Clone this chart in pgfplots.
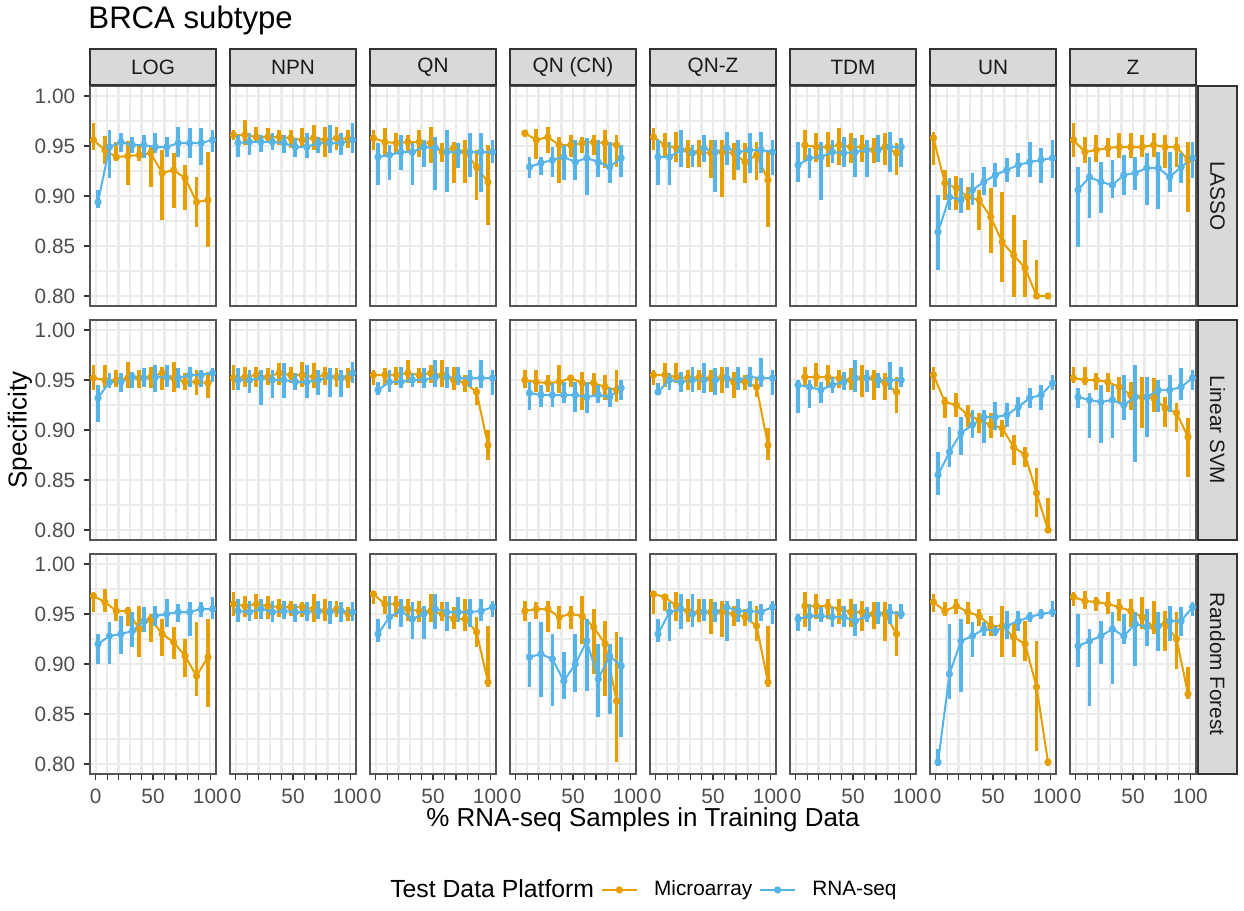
\documentclass[border=0pt]{standalone}
\usepackage{pgfplots}
\pgfplotsset{compat=1.18}
\usepackage{pgfplotstable}
\usepackage{fontspec}
\setmainfont{Liberation Sans}

\definecolor{mO}{HTML}{E69F00}
\definecolor{rB}{HTML}{56B4E9}
\definecolor{gray92}{HTML}{EBEBEB}
\definecolor{gray85}{HTML}{D9D9D9}
\definecolor{gray30}{HTML}{4D4D4D}
\definecolor{gray20}{HTML}{333333}
\definecolor{gray10}{HTML}{1A1A1A}
\definecolor{border}{HTML}{555555}

% columns: x, Microarray mean/low/high, RNA-seq mean/low/high
% ---------- LASSO ----------
\pgfplotstableread{
x m mlo mhi r rlo rhi
0 0.956 0.946 0.973 0.894 0.888 0.906
10 0.946 0.932 0.960 0.949 0.918 0.966
20 0.939 0.935 0.954 0.954 0.944 0.963
30 0.940 0.911 0.955 0.951 0.943 0.959
40 0.941 0.935 0.950 0.951 0.938 0.961
50 0.943 0.909 0.950 0.949 0.943 0.963
60 0.923 0.876 0.946 0.949 0.939 0.959
70 0.926 0.888 0.943 0.953 0.939 0.969
80 0.918 0.886 0.931 0.953 0.938 0.968
90 0.894 0.869 0.919 0.953 0.931 0.968
100 0.896 0.849 0.944 0.956 0.944 0.966
}\tLOGa
\pgfplotstableread{
x m mlo mhi r rlo rhi
0 0.961 0.956 0.966 0.953 0.939 0.961
10 0.961 0.951 0.976 0.954 0.941 0.963
20 0.959 0.953 0.969 0.954 0.944 0.961
30 0.959 0.953 0.968 0.954 0.946 0.963
40 0.959 0.951 0.966 0.953 0.943 0.961
50 0.958 0.948 0.966 0.949 0.939 0.958
60 0.956 0.948 0.968 0.949 0.938 0.963
70 0.958 0.946 0.971 0.953 0.943 0.959
80 0.956 0.939 0.969 0.953 0.943 0.971
90 0.958 0.946 0.969 0.953 0.941 0.963
100 0.957 0.948 0.966 0.956 0.943 0.973
}\tNPNa
\pgfplotstableread{
x m mlo mhi r rlo rhi
0 0.958 0.946 0.966 0.939 0.911 0.953
10 0.954 0.939 0.968 0.941 0.916 0.951
20 0.953 0.943 0.963 0.944 0.926 0.961
30 0.954 0.944 0.961 0.944 0.911 0.953
40 0.954 0.939 0.966 0.949 0.929 0.956
50 0.953 0.933 0.969 0.948 0.906 0.959
60 0.944 0.934 0.953 0.944 0.904 0.966
70 0.948 0.913 0.954 0.944 0.928 0.953
80 0.944 0.913 0.956 0.944 0.919 0.963
90 0.929 0.896 0.946 0.944 0.904 0.963
100 0.914 0.871 0.951 0.944 0.933 0.956
}\tQNa
\pgfplotstableread{
x m mlo mhi r rlo rhi
10 0.963 0.959 0.966 0.929 0.918 0.939
20 0.956 0.937 0.967 0.933 0.921 0.939
30 0.959 0.943 0.969 0.936 0.919 0.949
40 0.951 0.913 0.959 0.939 0.916 0.951
50 0.951 0.939 0.961 0.934 0.916 0.956
60 0.953 0.943 0.959 0.938 0.901 0.958
70 0.954 0.941 0.961 0.934 0.919 0.956
80 0.953 0.928 0.966 0.929 0.913 0.954
90 0.951 0.929 0.961 0.938 0.919 0.951
}\tQNCNa
\pgfplotstableread{
x m mlo mhi r rlo rhi
0 0.959 0.946 0.968 0.939 0.911 0.956
10 0.951 0.939 0.963 0.939 0.911 0.954
20 0.948 0.934 0.964 0.946 0.929 0.966
30 0.946 0.928 0.956 0.943 0.929 0.951
40 0.944 0.929 0.956 0.948 0.934 0.961
50 0.943 0.918 0.956 0.944 0.904 0.956
60 0.944 0.899 0.956 0.948 0.931 0.964
70 0.943 0.916 0.953 0.944 0.926 0.956
80 0.934 0.913 0.953 0.946 0.923 0.963
90 0.941 0.916 0.954 0.946 0.923 0.964
100 0.916 0.869 0.946 0.944 0.921 0.956
}\tQNZa
\pgfplotstableread{
x m mlo mhi r rlo rhi
0 nan nan nan 0.931 0.914 0.954
10 0.951 0.934 0.966 0.938 0.918 0.948
20 0.949 0.934 0.963 0.939 0.896 0.954
30 0.949 0.929 0.964 0.944 0.933 0.956
40 0.951 0.931 0.968 0.943 0.929 0.959
50 0.949 0.933 0.963 0.944 0.919 0.958
60 0.949 0.934 0.961 0.946 0.919 0.956
70 0.946 0.933 0.958 0.946 0.934 0.961
80 0.949 0.931 0.963 0.949 0.924 0.964
90 0.943 0.921 0.953 0.949 0.929 0.958
}\tTDMa
\pgfplotstableread{
x m mlo mhi r rlo rhi
0 0.958 0.931 0.964 0.864 0.826 0.901
10 0.913 0.896 0.926 0.899 0.886 0.918
20 0.908 0.886 0.920 0.896 0.883 0.918
30 0.899 0.886 0.909 0.906 0.891 0.923
40 0.896 0.866 0.906 0.914 0.901 0.929
50 0.879 0.843 0.908 0.921 0.909 0.933
60 0.854 0.814 0.904 0.926 0.914 0.938
70 0.841 0.799 0.881 0.931 0.919 0.943
80 0.828 0.799 0.856 0.934 0.919 0.954
90 0.800 0.799 0.836 0.936 0.913 0.948
100 0.800 0.798 0.802 0.938 0.918 0.956
}\tUNa
\pgfplotstableread{
x m mlo mhi r rlo rhi
0 0.956 0.939 0.973 0.906 0.849 0.929
10 0.944 0.933 0.959 0.919 0.878 0.939
20 0.946 0.934 0.961 0.914 0.883 0.934
30 0.948 0.939 0.958 0.911 0.898 0.936
40 0.949 0.938 0.963 0.921 0.901 0.941
50 0.949 0.938 0.963 0.923 0.906 0.939
60 0.949 0.939 0.961 0.928 0.891 0.943
70 0.951 0.939 0.963 0.928 0.887 0.944
80 0.949 0.928 0.961 0.919 0.904 0.944
90 0.949 0.929 0.959 0.929 0.913 0.943
100 0.936 0.884 0.954 0.938 0.918 0.954
}\tZa
% ---------- Linear SVM ----------
\pgfplotstableread{
x m mlo mhi r rlo rhi
0 0.952 0.940 0.965 0.932 0.908 0.945
10 0.950 0.942 0.965 0.948 0.942 0.957
20 0.950 0.943 0.960 0.948 0.938 0.957
30 0.952 0.942 0.968 0.953 0.942 0.958
40 0.952 0.942 0.960 0.952 0.943 0.962
50 0.953 0.942 0.963 0.953 0.938 0.965
60 0.957 0.940 0.963 0.953 0.943 0.965
70 0.952 0.938 0.968 0.952 0.942 0.962
80 0.948 0.940 0.957 0.955 0.943 0.963
90 0.948 0.935 0.960 0.955 0.943 0.960
100 0.947 0.932 0.958 0.957 0.948 0.962
}\tLOGb
\pgfplotstableread{
x m mlo mhi r rlo rhi
0 0.952 0.940 0.965 0.950 0.940 0.962
10 0.953 0.943 0.963 0.950 0.937 0.960
20 0.955 0.943 0.963 0.952 0.925 0.960
30 0.953 0.945 0.962 0.950 0.932 0.960
40 0.957 0.945 0.967 0.950 0.932 0.967
50 0.955 0.947 0.963 0.948 0.940 0.957
60 0.955 0.943 0.968 0.948 0.932 0.965
70 0.953 0.942 0.967 0.950 0.935 0.960
80 0.955 0.945 0.963 0.953 0.933 0.962
90 0.953 0.943 0.962 0.952 0.933 0.960
100 0.952 0.942 0.962 0.957 0.947 0.968
}\tNPNb
\pgfplotstableread{
x m mlo mhi r rlo rhi
0 0.955 0.945 0.960 0.940 0.935 0.948
10 0.955 0.945 0.962 0.948 0.938 0.960
20 0.955 0.945 0.963 0.948 0.942 0.963
30 0.957 0.947 0.970 0.950 0.943 0.957
40 0.955 0.947 0.962 0.950 0.942 0.962
50 0.957 0.947 0.965 0.953 0.943 0.970
60 0.955 0.943 0.970 0.953 0.942 0.963
70 0.950 0.940 0.963 0.952 0.945 0.963
80 0.947 0.938 0.955 0.952 0.943 0.960
90 0.938 0.925 0.943 0.952 0.942 0.970
100 0.885 0.870 0.900 0.952 0.935 0.960
}\tQNb
\pgfplotstableread{
x m mlo mhi r rlo rhi
10 0.950 0.942 0.960 0.937 0.920 0.948
20 0.948 0.938 0.960 0.935 0.923 0.945
30 0.947 0.938 0.955 0.935 0.923 0.947
40 0.948 0.937 0.965 0.935 0.927 0.948
50 0.952 0.943 0.955 0.935 0.918 0.948
60 0.947 0.920 0.958 0.933 0.917 0.948
70 0.947 0.933 0.957 0.935 0.927 0.945
80 0.943 0.930 0.955 0.933 0.923 0.942
90 0.940 0.928 0.960 0.942 0.930 0.950
}\tQNCNb
\pgfplotstableread{
x m mlo mhi r rlo rhi
0 0.955 0.945 0.960 0.938 0.935 0.947
10 0.955 0.943 0.967 0.950 0.940 0.957
20 0.953 0.947 0.967 0.948 0.938 0.958
30 0.952 0.940 0.960 0.950 0.938 0.963
40 0.953 0.940 0.960 0.950 0.937 0.967
50 0.952 0.938 0.960 0.950 0.935 0.962
60 0.953 0.937 0.963 0.952 0.942 0.963
70 0.948 0.932 0.958 0.950 0.940 0.963
80 0.948 0.940 0.955 0.953 0.943 0.963
90 0.943 0.933 0.952 0.952 0.943 0.972
100 0.885 0.870 0.902 0.952 0.935 0.960
}\tQNZb
\pgfplotstableread{
x m mlo mhi r rlo rhi
0 nan nan nan 0.945 0.917 0.950
10 0.953 0.943 0.963 0.943 0.922 0.950
20 0.953 0.943 0.967 0.940 0.927 0.948
30 0.953 0.943 0.965 0.945 0.937 0.953
40 0.952 0.942 0.960 0.948 0.940 0.958
50 0.950 0.940 0.962 0.952 0.938 0.970
60 0.952 0.933 0.965 0.952 0.938 0.960
70 0.952 0.930 0.960 0.950 0.942 0.957
80 0.947 0.930 0.957 0.950 0.940 0.968
90 0.938 0.917 0.953 0.950 0.943 0.963
}\tTDMb
\pgfplotstableread{
x m mlo mhi r rlo rhi
0 0.955 0.940 0.963 0.855 0.835 0.878
10 0.928 0.912 0.933 0.878 0.863 0.903
20 0.925 0.913 0.937 0.897 0.875 0.913
30 0.915 0.903 0.925 0.905 0.892 0.920
40 0.910 0.897 0.917 0.913 0.887 0.920
50 0.905 0.892 0.917 0.913 0.900 0.928
60 0.902 0.893 0.910 0.915 0.903 0.927
70 0.883 0.865 0.895 0.923 0.913 0.933
80 0.875 0.863 0.883 0.932 0.922 0.942
90 0.837 0.813 0.862 0.935 0.920 0.945
100 0.800 0.797 0.832 0.947 0.940 0.955
}\tUNb
\pgfplotstableread{
x m mlo mhi r rlo rhi
0 0.952 0.947 0.963 0.933 0.922 0.942
10 0.950 0.945 0.963 0.930 0.892 0.937
20 0.950 0.940 0.957 0.928 0.887 0.945
30 0.948 0.938 0.957 0.930 0.892 0.945
40 0.943 0.927 0.953 0.925 0.910 0.955
50 0.935 0.920 0.948 0.933 0.868 0.965
60 0.933 0.902 0.953 0.933 0.893 0.953
70 0.932 0.918 0.952 0.940 0.918 0.950
80 0.922 0.903 0.933 0.940 0.918 0.955
90 0.917 0.898 0.927 0.943 0.930 0.962
100 0.893 0.853 0.912 0.952 0.940 0.960
}\tZb
% ---------- Random Forest ----------
\pgfplotstableread{
x m mlo mhi r rlo rhi
0 0.968 0.952 0.972 0.920 0.900 0.930
10 0.962 0.952 0.975 0.928 0.900 0.942
20 0.953 0.943 0.965 0.930 0.910 0.948
30 0.953 0.938 0.957 0.933 0.917 0.952
40 0.935 0.907 0.958 0.943 0.932 0.957
50 0.945 0.922 0.950 0.948 0.938 0.958
60 0.930 0.908 0.945 0.950 0.937 0.965
70 0.922 0.905 0.937 0.952 0.942 0.960
80 0.908 0.887 0.925 0.952 0.928 0.962
90 0.888 0.868 0.942 0.955 0.947 0.962
100 0.907 0.857 0.945 0.955 0.945 0.967
}\tLOGc
\pgfplotstableread{
x m mlo mhi r rlo rhi
0 0.960 0.948 0.972 0.953 0.942 0.965
10 0.958 0.947 0.968 0.952 0.943 0.963
20 0.960 0.945 0.970 0.955 0.945 0.965
30 0.958 0.945 0.968 0.952 0.942 0.963
40 0.957 0.947 0.965 0.953 0.945 0.963
50 0.957 0.948 0.963 0.952 0.942 0.960
60 0.957 0.947 0.962 0.952 0.943 0.962
70 0.955 0.942 0.970 0.953 0.945 0.963
80 0.953 0.943 0.965 0.952 0.940 0.963
90 0.955 0.947 0.963 0.953 0.942 0.962
100 0.950 0.943 0.957 0.952 0.943 0.962
}\tNPNc
\pgfplotstableread{
x m mlo mhi r rlo rhi
0 0.970 0.960 0.973 0.930 0.922 0.945
10 0.960 0.950 0.968 0.947 0.935 0.968
20 0.960 0.947 0.968 0.953 0.937 0.965
30 0.955 0.943 0.965 0.945 0.925 0.962
40 0.953 0.942 0.963 0.950 0.925 0.958
50 0.953 0.942 0.970 0.955 0.935 0.970
60 0.950 0.943 0.962 0.952 0.933 0.962
70 0.945 0.935 0.957 0.952 0.942 0.967
80 0.945 0.933 0.965 0.952 0.937 0.965
90 0.932 0.917 0.947 0.953 0.943 0.965
100 0.882 0.877 0.938 0.957 0.947 0.963
}\tQNc
\pgfplotstableread{
x m mlo mhi r rlo rhi
10 0.953 0.943 0.963 0.907 0.877 0.942
20 0.955 0.945 0.962 0.910 0.867 0.942
30 0.955 0.932 0.963 0.905 0.858 0.930
40 0.947 0.935 0.958 0.883 0.865 0.912
50 0.950 0.935 0.958 0.900 0.872 0.930
60 0.948 0.920 0.968 0.923 0.873 0.945
70 0.937 0.890 0.955 0.885 0.847 0.920
80 0.920 0.868 0.943 0.908 0.850 0.920
90 0.863 0.802 0.932 0.898 0.827 0.927
}\tQNCNc
\pgfplotstableread{
x m mlo mhi r rlo rhi
0 0.970 0.950 0.972 0.930 0.922 0.945
10 0.967 0.953 0.970 0.952 0.923 0.962
20 0.958 0.943 0.972 0.955 0.935 0.970
30 0.953 0.942 0.965 0.950 0.937 0.970
40 0.952 0.942 0.965 0.952 0.943 0.965
50 0.952 0.930 0.965 0.952 0.942 0.962
60 0.952 0.927 0.963 0.957 0.923 0.963
70 0.950 0.938 0.958 0.953 0.942 0.965
80 0.947 0.938 0.955 0.953 0.942 0.963
90 0.938 0.923 0.958 0.952 0.943 0.960
100 0.882 0.877 0.938 0.957 0.940 0.963
}\tQNZc
\pgfplotstableread{
x m mlo mhi r rlo rhi
0 nan nan nan 0.945 0.933 0.950
10 0.958 0.937 0.972 0.948 0.933 0.960
20 0.958 0.945 0.970 0.948 0.942 0.957
30 0.958 0.945 0.965 0.947 0.937 0.957
40 0.955 0.940 0.965 0.947 0.937 0.958
50 0.952 0.937 0.965 0.943 0.928 0.960
60 0.952 0.933 0.963 0.948 0.942 0.957
70 0.950 0.935 0.962 0.950 0.940 0.962
80 0.950 0.923 0.962 0.952 0.940 0.960
90 0.930 0.908 0.953 0.950 0.945 0.960
}\tTDMc
\pgfplotstableread{
x m mlo mhi r rlo rhi
0 0.962 0.952 0.970 0.802 0.798 0.815
10 0.953 0.948 0.962 0.890 0.865 0.940
20 0.958 0.950 0.965 0.923 0.872 0.945
30 0.952 0.940 0.962 0.928 0.907 0.942
40 0.948 0.938 0.955 0.935 0.928 0.942
50 0.938 0.928 0.948 0.933 0.928 0.938
60 0.938 0.907 0.958 0.938 0.925 0.953
70 0.927 0.907 0.942 0.943 0.933 0.953
80 0.920 0.903 0.943 0.947 0.942 0.952
90 0.877 0.813 0.923 0.950 0.945 0.955
100 0.802 0.798 0.803 0.952 0.947 0.963
}\tUNc
\pgfplotstableread{
x m mlo mhi r rlo rhi
0 0.967 0.958 0.972 0.918 0.897 0.950
10 0.963 0.955 0.973 0.923 0.858 0.935
20 0.962 0.953 0.967 0.928 0.900 0.943
30 0.960 0.950 0.972 0.935 0.880 0.952
40 0.957 0.943 0.965 0.928 0.920 0.950
50 0.953 0.937 0.965 0.940 0.898 0.952
60 0.947 0.935 0.967 0.937 0.918 0.955
70 0.937 0.930 0.963 0.938 0.913 0.952
80 0.940 0.913 0.953 0.943 0.923 0.958
90 0.925 0.895 0.952 0.943 0.928 0.957
100 0.870 0.865 0.897 0.957 0.948 0.962
}\tZc

\pgfplotsset{
  panel/.style={
    scale only axis, width=53.39pt, height=93.21pt, anchor=north west,
    xmin=-5, xmax=105, ymin=0.79, ymax=1.01,
    xtick={0,10,20,30,40,50,60,70,80,90,100},
    ytick={0.8,0.85,0.9,0.95,1},
    minor ytick={0.825,0.875,0.925,0.975},
    grid=both,
    major grid style={draw=gray92, line width=1pt},
    minor grid style={draw=gray92, line width=0.5pt},
    axis line style={draw=border, line width=0.6pt},
    tick align=outside, xtick pos=bottom, ytick pos=left,
    major tick length=2.75pt, minor tick length=0pt,
    xticklabels={}, yticklabels={},
    xtick style={draw=none}, ytick style={draw=none},
    tick label style={font=\fontsize{8.8}{10}\selectfont, text=gray30},
  },
  leftcol/.style={yticklabels={0.80,0.85,0.90,0.95,1.00},
    ytick style={draw=gray20, line width=0.5pt}},
  bottomrow/.style={xticklabels={0,,,,,50,,,,,100},
    xtick style={draw=gray20, line width=0.5pt}},
  series/.style={forget plot, draw=#1, line width=0.85pt,
    mark=*, mark size=1.1pt, mark options={solid, draw=#1, fill=#1},
    error bars/.cd, y dir=both, y explicit, error mark=none,
    error bar style={line width=1.6pt, draw=#1}},
  key/.style={draw=#1, line width=0.85pt, mark=*, mark size=1.1pt,
    mark options={solid, draw=#1, fill=#1},
    legend image code/.code={%
      \draw[mark repeat=2, mark phase=2, ##1]
        plot coordinates {(0pt,0pt) (7.3pt,0pt) (14.6pt,0pt)};}},
}

% one facet: column, row, table, extra axis options, extra axis content
\newcommand{\panel}[5]{%
  \begin{axis}[panel,
      at={({(90+140*#1)*0.4237pt},{-(86+234*#2)*0.4237pt})}, #4]
    \addplot[series=mO] table[x expr=\thisrow{x}-2, y=m,
      y error plus expr=\thisrow{mhi}-\thisrow{m},
      y error minus expr=\thisrow{m}-\thisrow{mlo}] {#3};
    \addplot[series=rB] table[x expr=\thisrow{x}+2, y=r,
      y error plus expr=\thisrow{rhi}-\thisrow{r},
      y error minus expr=\thisrow{r}-\thisrow{rlo}] {#3};
    #5
  \end{axis}}

\begin{document}
\begin{tikzpicture}
\begin{scope}[x=0.4237pt, y=-0.4237pt]
  \useasboundingbox (0,0) rectangle (1244,905);
\end{scope}

% LASSO
\panel{0}{0}{\tLOGa}{leftcol}{}
\panel{1}{0}{\tNPNa}{}{}
\panel{2}{0}{\tQNa}{}{}
\panel{3}{0}{\tQNCNa}{}{}
\panel{4}{0}{\tQNZa}{}{}
\panel{5}{0}{\tTDMa}{}{}
\panel{6}{0}{\tUNa}{}{}
\panel{7}{0}{\tZa}{}{}
% Linear SVM
\panel{0}{1}{\tLOGb}{leftcol}{}
\panel{1}{1}{\tNPNb}{}{}
\panel{2}{1}{\tQNb}{}{}
\panel{3}{1}{\tQNCNb}{}{}
\panel{4}{1}{\tQNZb}{}{}
\panel{5}{1}{\tTDMb}{}{}
\panel{6}{1}{\tUNb}{}{}
\panel{7}{1}{\tZb}{}{}
% Random Forest (the first one carries the legend)
\panel{0}{2}{\tLOGc}{leftcol, bottomrow,
  legend columns=-1,
  legend style={at={(4.345,-0.527)}, anchor=center, draw=none, fill=none,
    font=\fontsize{8.8}{10}\selectfont,
    /tikz/every odd column/.append style={column sep=5pt},
    /tikz/every even column/.append style={column sep=1pt}},
  legend cell align=left}{%
  \addlegendimage{empty legend}
  \addlegendentry{\fontsize{10.5}{13}\selectfont Test Data Platform}
  \addlegendimage{key=mO}
  \addlegendentry{Microarray}
  \addlegendimage{key=rB}
  \addlegendentry{RNA-seq}}
\panel{1}{2}{\tNPNc}{bottomrow}{}
\panel{2}{2}{\tQNc}{bottomrow}{}
\panel{3}{2}{\tQNCNc}{bottomrow}{}
\panel{4}{2}{\tQNZc}{bottomrow}{}
\panel{5}{2}{\tTDMc}{bottomrow}{}
\panel{6}{2}{\tUNc}{bottomrow}{}
\panel{7}{2}{\tZc}{bottomrow}{}

% strips, titles and axis labels (units of the grid below are 1/2.36 pt)
\begin{scope}[x=0.4237pt, y=-0.4237pt]
  \foreach \lab [count=\i from 0] in {LOG,NPN,QN,QN (CN),QN-Z,TDM,UN,Z} {
    \draw[fill=gray85, draw=gray20, line width=0.5pt]
      ({90+140*\i},49) rectangle ({216+140*\i},85);
    \node[font=\fontsize{8.8}{10}\selectfont, text=gray10]
      at ({153+140*\i},67) {\lab};
  }
  \foreach \lab [count=\r from 0] in {LASSO,Linear SVM,Random Forest} {
    \draw[fill=gray85, draw=gray20, line width=0.5pt]
      (1198,{86+234*\r}) rectangle (1237,{306+234*\r});
    \node[font=\fontsize{8.8}{10}\selectfont, text=gray10, rotate=-90]
      at (1217.5,{196+234*\r}) {\lab};
  }
  \node[anchor=base west, inner sep=0pt, font=\fontsize{13.2}{16}\selectfont]
    at (88,28) {BRCA subtype};
  \node[rotate=90, font=\fontsize{11}{13}\selectfont] at (20,430) {Specificity};
  \node[font=\fontsize{11}{13}\selectfont] at (643,820) {\% RNA-seq Samples in Training Data};
\end{scope}
\end{tikzpicture}
\end{document}
